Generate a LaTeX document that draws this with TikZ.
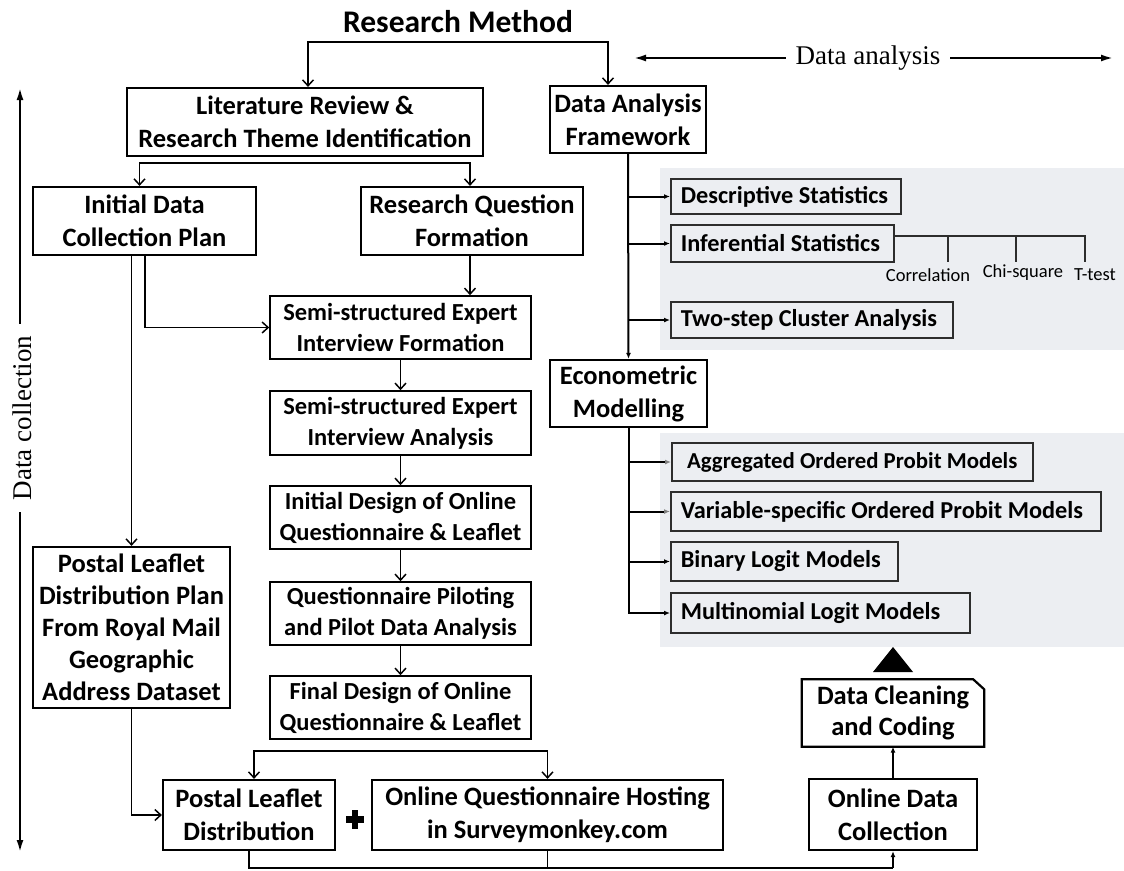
\documentclass[tikz,border=0pt]{standalone}
\usepackage{fontspec}
\setmainfont{Carlito}
\newfontfamily\tnr{Liberation Serif}
\usetikzlibrary{arrows.meta,calc}
\definecolor{panel}{RGB}{236,238,242}
\definecolor{rim}{RGB}{45,45,45}
\begin{document}
\begin{tikzpicture}[x=1pt,y=-1pt,
  base/.style={draw, inner sep=0pt, align=center},
  major/.style={base, line width=2.2pt, font=\bfseries\fontsize{26.5}{33}\selectfont},
  stage/.style={base, line width=1.6pt, font=\bfseries\fontsize{24.5}{31}\selectfont},
  method/.style={draw=rim, line width=1.6pt, inner sep=0pt, inner xsep=10pt, anchor=west,
    align=flush left, font=\bfseries\fontsize{24.3}{28}\selectfont},
  arr/.style={line width=1.8pt, -{Straight Barb[length=6pt,width=11pt,line width=1.5pt]}},
  tip/.style={line width=2pt, -{Latex[length=6pt,width=5pt]}},
  span/.style={line width=2pt, {Latex[length=12pt,width=7pt]}-{Latex[length=12pt,width=7pt]}},
  side/.style={font=\tnr\fontsize{27}{30}\selectfont, fill=white, inner ysep=4pt},
  sub/.style={font=\fontsize{18.5}{21}\selectfont, inner sep=0pt},
]
\useasboundingbox (0,0) rectangle (1124,870);

% shaded panels behind the analysis methods
\fill[panel] (660,168) rectangle (1124,350);
\fill[panel] (660,433) rectangle (1124,647);

% title
\node[font=\bfseries\fontsize{31.5}{36}\selectfont] (title) at (458,22) {Research Method};

% phase arrows
\coordinate (dal) at (634,58);
\coordinate (dar) at (1113,58);
\draw[span] (dal) -- (dar);
\node[side, inner xsep=10pt] (dalab) at (868,58) {Data analysis};

\coordinate (dct) at (20,88);
\coordinate (dcb) at (20,852);
\draw[span] (dct) -- (dcb);
\node[side, rotate=90, inner xsep=12pt] (dclab) at (22,418) {Data collection};

% left branch: design of the data collection
\node[major, minimum width=356, minimum height=68] (lit) at (305,122)
  {Literature Review \&\\Research Theme Identification};
\node[major, minimum width=223, minimum height=68] (idc) at (144.5,221)
  {Initial Data\\Collection Plan};
\node[major, minimum width=222, minimum height=68] (rqf) at (472,221)
  {Research Question\\Formation};
\node[stage, minimum width=261, minimum height=63] (sseif) at (400.5,327.5)
  {Semi-structured Expert\\Interview Formation};
\node[stage, minimum width=261, minimum height=64] (sseia) at (400.5,423)
  {Semi-structured Expert\\Interview Analysis};
\node[stage, minimum width=261, minimum height=63] (idoql) at (400.5,517.5)
  {Initial Design of Online\\Questionnaire \& Leaflet};
\node[stage, minimum width=261, minimum height=63] (qppda) at (400.5,613.5)
  {Questionnaire Piloting\\and Pilot Data Analysis};
\node[stage, minimum width=261, minimum height=63] (fdoql) at (400.5,707.5)
  {Final Design of Online\\Questionnaire \& Leaflet};
\node[major, minimum width=197, minimum height=161, font=\bfseries\fontsize{26.5}{32}\selectfont]
  (pldp) at (131.5,627.5)
  {Postal Leaflet\\Distribution Plan\\From Royal Mail\\Geographic\\Address Dataset};
\node[major, minimum width=172, minimum height=70] (pld) at (249,815)
  {Postal Leaflet\\Distribution};
\node[major, minimum width=351, minimum height=70] (oqh) at (547.5,815)
  {Online Questionnaire Hosting\\in Surveymonkey.com};
\node[major, minimum width=168, minimum height=71] (odc) at (893,814.5)
  {Online Data\\Collection};
\node[inner sep=0pt, minimum width=182, minimum height=67, align=center,
  font=\bfseries\fontsize{26.5}{31}\selectfont] (dcc) at (893,713) {Data Cleaning\\and Coding};
\draw[line width=2.2pt] (dcc.south west) -- (dcc.north west) -- ([xshift=-11pt]dcc.north east)
  -- ($(dcc.north east)+(0,10)$) -- (dcc.south east) -- cycle;

% plus sign between the two distribution channels
\fill (346,816) rectangle (364,822.5);
\fill (351.8,810) rectangle (358.3,828.5);

% right branch: analysis
\node[major, minimum width=156, minimum height=67] (daf) at (628,119.5)
  {Data Analysis\\Framework};
\node[major, minimum width=157, minimum height=67] (em) at (628.5,393.5)
  {Econometric\\Modelling};

\node[method, text width=210, minimum height=35] (ds) at (670,196.5) {Descriptive Statistics};
\node[method, text width=203, minimum height=37] (is) at (670,243.5) {Inferential Statistics};
\node[method, text width=262, minimum height=36] (tsca) at (670,320) {Two-step Cluster Analysis};
\node[method, minimum width=361, minimum height=38, inner xsep=0pt, align=center,
  font=\bfseries\fontsize{22.8}{26}\selectfont] (aopm) at (671,462)
  {Aggregated Ordered Probit Models};
\node[method, text width=410, minimum height=39] (vsopm) at (670,511.5)
  {Variable-specific Ordered Probit Models};
\node[method, text width=207, minimum height=39] (blm) at (670,561.5) {Binary Logit Models};
\node[method, text width=279, minimum height=40] (mlm) at (670,613) {Multinomial Logit Models};

% statistical tests under inferential statistics
\node[sub] (corr) at (928,275) {Correlation};
\node[sub] (chi) at (1023,273) {Chi-square};
\node[sub] (ttest) at (1095,275) {T-test};
\draw[rim, line width=1.5pt] (is.east |- 0,236) -- (1085,236) -- (1085,262);
\draw[rim, line width=1.5pt] (948,236) -- (948,262);
\draw[rim, line width=1.5pt] (1016,236) -- (1016,262);

% connectors, top
\coordinate (tbar) at (458,42);
\draw[arr] (tbar) -| ([xshift=3pt]lit.north);
\draw[arr] (tbar) -| ([xshift=-20pt]daf.north);

\coordinate (lbar) at (305,163);
\draw[arr] (lbar) -| ([xshift=-5pt]idc.north);
\draw[arr] (lbar) -| ([xshift=-2pt]rqf.north);

\draw[arr] ([xshift=-2pt]rqf.south) -- ([xshift=-2pt]rqf.south |- sseif.north);
\draw[arr] ([xshift=0.5pt]idc.south) |- (sseif.west);
\draw[arr] (pldp.north |- idc.south) -- (pldp.north);

% connectors, survey design chain
\draw[arr] (sseif) -- (sseia);
\draw[arr] (sseia) -- (idoql);
\draw[arr] (idoql) -- (qppda);
\draw[arr] (qppda) -- (fdoql);

\coordinate (fbar) at (400,751);
\draw[arr] (fbar) -| ([xshift=5pt]pld.north);
\draw[arr] (fbar) -| (oqh.north);
\draw[arr] (pldp.south) |- (pld.west);

% connectors, collection to cleaning
\coordinate (bbar) at (893,868);
\draw[line width=1.8pt] (pld.south) |- (bbar);
\draw[line width=1.8pt] (oqh.south) -- (oqh.south |- bbar);
\draw[line width=1.8pt, -{Latex[length=6pt,width=5pt]}] (bbar) -- (odc.south);
\draw[line width=1.8pt, -{Latex[length=6pt,width=5pt]}] (odc.north) -- (dcc.south);

% triangle pointing into the modelling panel
\fill (893,647) -- (913,672) -- (873,672) -- cycle;

% connectors, analysis
\draw[tip] (daf.south) -- (em.north);
\draw[tip] (daf.south |- ds.west) -- (ds.west);
\draw[tip] (daf.south |- is.west) -- (is.west);
\draw[tip] (daf.south |- tsca.west) -- (tsca.west);
\draw[tip] (em.south) |- (mlm.west);
\draw[tip, -{Latex[length=6pt,width=5pt,gray]}] (em.south |- aopm.west) -- (aopm.west);
\draw[tip, -{Latex[length=6pt,width=5pt,gray]}] (em.south |- vsopm.west) -- (vsopm.west);
\draw[tip] (em.south |- blm.west) -- (blm.west);
\end{tikzpicture}
\end{document}
